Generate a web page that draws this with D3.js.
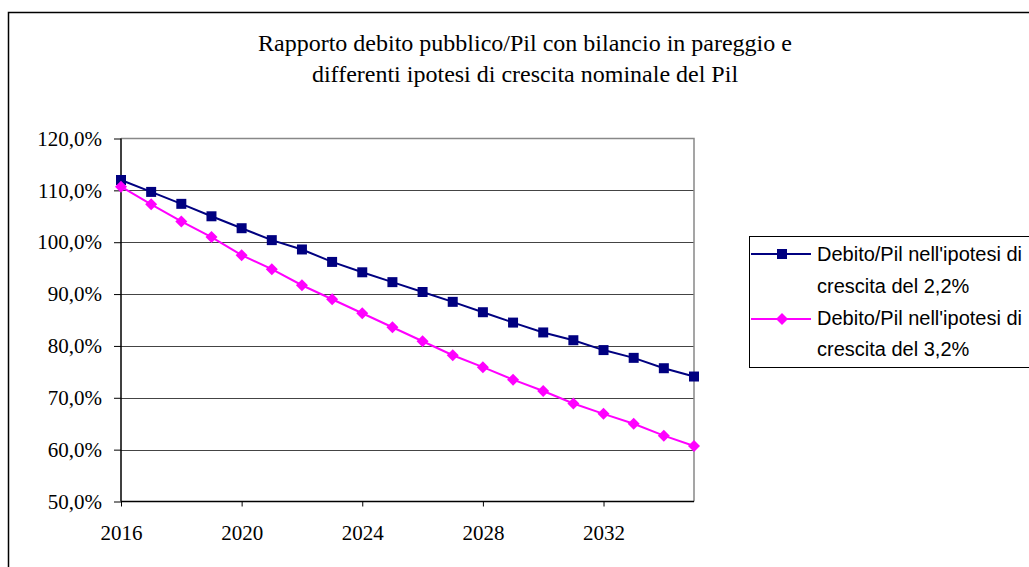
<!DOCTYPE html>
<html>
<head>
<meta charset="utf-8">
<script src="https://cdn.jsdelivr.net/npm/d3@7"></script>
<style>
  body { margin: 0; background: #fff; overflow: hidden; }
  svg { display: block; }
</style>
</head>
<body>
<div id="chart"></div>
<script>
// Data
const years = d3.range(2016, 2036);
const debt22 = [112.0, 109.7, 107.4, 105.0, 102.7, 100.4, 98.6, 96.2, 94.2, 92.3,
                90.4, 88.5, 86.5, 84.5, 82.6, 81.1, 79.2, 77.7, 75.7, 74.1];
const debt32 = [110.7, 107.3, 104.0, 101.0, 97.5, 94.8, 91.7, 89.0, 86.3, 83.6,
                80.9, 78.2, 75.9, 73.5, 71.3, 68.9, 66.9, 65.0, 62.7, 60.7];
const yTicks = [50, 60, 70, 80, 90, 100, 110, 120];
const xTicks = [2016, 2020, 2024, 2028, 2032];
const titleLines = ["Rapporto debito pubblico/Pil con bilancio in pareggio e",
                    "differenti ipotesi di crescita nominale del Pil"];
const seriesNames = [["Debito/Pil nell'ipotesi di", "crescita del 2,2%"],
                     ["Debito/Pil nell'ipotesi di", "crescita del 3,2%"]];

const width = 1029, height = 567;
const plot = { left: 121, right: 694, top: 138.5, bottom: 501.5 };
const serif = "'Liberation Serif', 'Times New Roman', serif";

const svg = d3.select("#chart")
    .append("svg")
    .attr("width", width)
    .attr("height", height);

// Outer chart frame (runs off the right/bottom edge)
svg.append("rect")
    .attr("x", 8.5).attr("y", 12.5)
    .attr("width", 1040).attr("height", 580)
    .attr("fill", "#fff")
    .attr("stroke", "#000")
    .attr("stroke-width", 1.5);

// Title
svg.append("g").selectAll("text")
    .data(titleLines)
    .enter().append("text")
    .attr("x", 525)
    .attr("y", (d, i) => 51 + i * 31)
    .attr("text-anchor", "middle")
    .style("font-family", serif)
    .style("font-size", "24px")
    .text(d => d);

// Scales
const x = d3.scaleLinear().domain([2016, 2035]).range([plot.left, plot.right]);
const y = d3.scaleLinear().domain([50, 120]).range([plot.bottom, plot.top]);

// Gridlines
svg.append("g").selectAll("line")
    .data(yTicks.filter(d => d > 50 && d < 120))
    .enter().append("line")
    .attr("x1", plot.left).attr("x2", plot.right)
    .attr("y1", d => Math.round(y(d)) + 0.5).attr("y2", d => Math.round(y(d)) + 0.5)
    .attr("stroke", "#444")
    .attr("stroke-width", 1);

// Plot area border (top/right gray)
svg.append("path")
    .attr("d", `M${plot.left},${plot.top}H${plot.right}V${plot.bottom}`)
    .attr("fill", "none")
    .attr("stroke", "#888")
    .attr("stroke-width", 1.5);

// Y axis
const yAxis = svg.append("g")
    .attr("transform", `translate(${plot.left}, 0)`)
    .call(d3.axisLeft(y).tickValues(yTicks).tickSize(7).tickPadding(12)
        .tickFormat(d => d3.format(".1f")(d).replace(".", ",") + "%"));

// X axis
const xAxis = svg.append("g")
    .attr("transform", `translate(0, ${plot.bottom})`)
    .call(d3.axisBottom(x).tickValues(xTicks).tickSize(5).tickPadding(19)
        .tickFormat(d3.format("d")));

[yAxis, xAxis].forEach(g => {
    g.select(".domain").attr("stroke", "#000").attr("stroke-width", 1.5);
    g.selectAll(".tick line").attr("stroke", "#000");
    g.selectAll("text")
        .attr("fill", "#000")
        .style("font-family", serif)
        .style("font-size", "21px");
});
// Excel-style: no outer tick nubs on the domain ends
yAxis.select(".domain").attr("d", `M0,${plot.top}V${plot.bottom}`);
xAxis.select(".domain").attr("d", `M${plot.left},0H${plot.right}`);

// Series (diamond = square turned 45 degrees, like Excel's marker)
const line = d3.line().x((d, i) => x(years[i])).y(d => y(d));
const series = [
    { values: debt22, color: "#000080", size: 100, rotate: 0 },
    { values: debt32, color: "#FF00FF", size: 72, rotate: 45 }
];
const marker = s => d3.symbol().type(d3.symbolSquare).size(s.size)();

series.forEach(s => {
    svg.append("path")
        .datum(s.values)
        .attr("fill", "none")
        .attr("stroke", s.color)
        .attr("stroke-width", 2)
        .attr("d", line);

    svg.append("g").selectAll("path")
        .data(s.values)
        .enter().append("path")
        .attr("transform", (d, i) => `translate(${x(years[i])},${y(d)}) rotate(${s.rotate})`)
        .attr("d", marker(s))
        .attr("fill", s.color);
});

// Legend
const legend = svg.append("g");
legend.append("rect")
    .attr("x", 749.5).attr("y", 236.5)
    .attr("width", 300).attr("height", 131)
    .attr("fill", "#fff")
    .attr("stroke", "#000")
    .attr("stroke-width", 1);

series.forEach((s, i) => {
    const cy = 254 + i * 65;
    legend.append("line")
        .attr("x1", 751).attr("x2", 811)
        .attr("y1", cy).attr("y2", cy)
        .attr("stroke", s.color).attr("stroke-width", 2);
    legend.append("path")
        .attr("transform", `translate(782,${cy}) rotate(${s.rotate})`)
        .attr("d", marker(s))
        .attr("fill", s.color);
    seriesNames[i].forEach((t, j) => {
        legend.append("text")
            .attr("x", 817)
            .attr("y", 261 + i * 63.5 + j * 31.5)
            .style("font-family", "'Liberation Sans', Arial, sans-serif")
            .style("font-size", "20px")
            .text(t);
    });
});
</script>
</body>
</html>
